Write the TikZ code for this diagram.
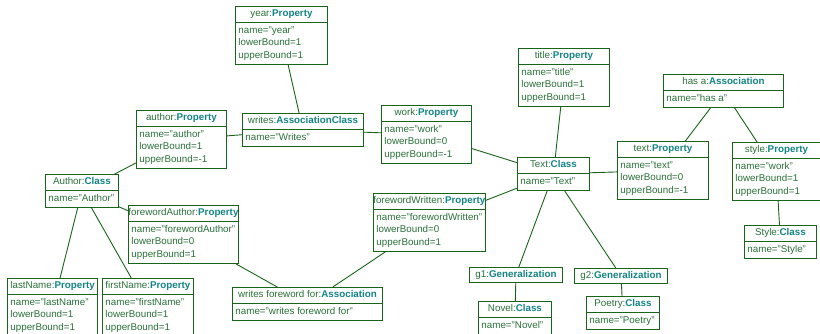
\documentclass[tikz,border=0pt]{standalone}
\usepackage{fontspec}
\setmainfont{Liberation Sans}
\usepackage{xcolor}
\usepackage{tikz}
\usetikzlibrary{shapes.multipart}

\definecolor{objline}{RGB}{24,100,24}
\definecolor{objtext}{RGB}{40,112,56}
\definecolor{kindcol}{RGB}{18,132,132}
\newcommand{\kind}[1]{\textcolor{kindcol}{\textbf{#1}}}
\newcommand{\hstrut}{\rule[-2.5pt]{0pt}{9.7pt}}
\newcommand{\bstrut}{\rule[-3.5pt]{0pt}{11.5pt}}

\begin{document}
\begin{tikzpicture}[x=1pt, y=-1pt,
    obj/.style={rectangle split, rectangle split parts=2, rectangle split part align={center,left},
        draw=objline, line width=0.9pt, text=objtext, align=left, anchor=north west,
        inner xsep=3pt, inner ysep=2.5pt, font=\fontsize{9.8}{12.5}\selectfont},
    prop/.style={obj, minimum height=57.5pt},
    gen/.style={rectangle, draw=objline, line width=0.9pt, text=objtext, anchor=north west,
        inner xsep=3pt, inner ysep=2.5pt, font=\fontsize{9.8}{12.5}\selectfont},
    link/.style={draw=objline, line width=0.9pt}]

    \useasboundingbox (0,0) rectangle (820,333);

    % properties
    \node[prop, minimum width=92pt] (yearP) at (235,6) {\hstrut year:\kind{Property}\nodepart{two}\bstrut name="year"\\lowerBound=1\\upperBound=1\bstrut};
    \node[prop, minimum width=90pt] (workP) at (381,105) {\hstrut work:\kind{Property}\nodepart{two}\bstrut name="work"\\lowerBound=0\\upperBound=-1\bstrut};
    \node[prop, minimum width=90pt] (authorP) at (136,110) {\hstrut author:\kind{Property}\nodepart{two}\bstrut name="author"\\lowerBound=1\\upperBound=-1\bstrut};
    \node[prop, minimum width=110pt] (fAuthorP) at (128,205) {\hstrut\makebox[104pt]{forewordAuthor:\kind{Property}}\nodepart{two}\bstrut name="forewordAuthor"\\lowerBound=0\\upperBound=1\bstrut};
    \node[prop, minimum width=90pt] (lastNameP) at (7,278) {\hstrut lastName:\kind{Property}\nodepart{two}\bstrut name="lastName"\\lowerBound=1\\upperBound=1\bstrut};
    \node[prop, minimum width=91pt] (firstNameP) at (102,278) {\hstrut firstName:\kind{Property}\nodepart{two}\bstrut name="firstName"\\lowerBound=1\\upperBound=1\bstrut};
    \node[prop, minimum width=110pt] (fWrittenP) at (373,193) {\hstrut\makebox[104pt]{forewordWritten:\kind{Property}}\nodepart{two}\bstrut name="forewordWritten"\\lowerBound=0\\upperBound=1\bstrut};
    \node[prop, minimum width=91pt] (titleP) at (518,48) {\hstrut title:\kind{Property}\nodepart{two}\bstrut name="title"\\lowerBound=1\\upperBound=1\bstrut};
    \node[prop, minimum width=91pt] (textP) at (617,141) {\hstrut text:\kind{Property}\nodepart{two}\bstrut name="text"\\lowerBound=0\\upperBound=-1\bstrut};
    \node[prop, minimum width=88pt] (styleP) at (732,142) {\hstrut style:\kind{Property}\nodepart{two}\bstrut name="work"\\lowerBound=1\\upperBound=1\bstrut};

    % classes and associations
    \node[obj, minimum width=121pt] (writesAC) at (242,113) {\hstrut writes:\kind{AssociationClass}\nodepart{two}\bstrut name="Writes"\bstrut};
    \node[obj, minimum width=73pt] (authorC) at (45,174) {\hstrut Author:\kind{Class}\nodepart{two}\bstrut name="Author"\bstrut};
    \node[obj, minimum width=150pt] (wffA) at (232,287) {\hstrut writes foreword for:\kind{Association}\nodepart{two}\bstrut name="writes foreword for"\bstrut};
    \node[obj, minimum width=72pt] (textC) at (517,157) {\hstrut Text:\kind{Class}\nodepart{two}\bstrut name="Text"\bstrut};
    \node[obj, minimum width=120pt] (hasA) at (663,74) {\hstrut has a:\kind{Association}\nodepart{two}\bstrut name="has a"\bstrut};
    \node[obj, minimum width=72pt] (styleC) at (744,225) {\hstrut Style:\kind{Class}\nodepart{two}\bstrut name="Style"\bstrut};
    \node[obj, minimum width=73pt] (novelC) at (478,301) {\hstrut Novel:\kind{Class}\nodepart{two}\bstrut name="Novel"\bstrut};
    \node[obj, minimum width=73pt] (poetryC) at (586,296) {\hstrut Poetry:\kind{Class}\nodepart{two}\bstrut name="Poetry"\bstrut};

    % generalizations
    \node[gen, minimum width=93pt] (g1) at (469,267) {\hstrut g1:\kind{Generalization}};
    \node[gen, minimum width=93pt] (g2) at (574,268) {\hstrut g2:\kind{Generalization}};

    % links
    \draw[link] (yearP) -- (writesAC);
    \draw[link] (writesAC) -- (workP);
    \draw[link] (authorP) -- (writesAC);
    \draw[link] (authorP) -- (authorC);
    \draw[link] (authorC) -- (lastNameP);
    \draw[link] (authorC) -- (firstNameP);
    \draw[link] (authorC) -- (fAuthorP);
    \draw[link] (fAuthorP) -- (wffA);
    \draw[link] (fWrittenP) -- (wffA);
    \draw[link] (fWrittenP) -- (textC);
    \draw[link] (workP) -- (textC);
    \draw[link] (titleP) -- (textC);
    \draw[link] (textC) -- (textP);
    \draw[link] (textC) -- (g1);
    \draw[link] (textC) -- (g2);
    \draw[link] (g1) -- (novelC);
    \draw[link] (g2) -- (poetryC);
    \draw[link] (hasA) -- (textP);
    \draw[link] (hasA) -- (styleP);
    \draw[link] (styleP) -- (styleC);
\end{tikzpicture}
\end{document}
